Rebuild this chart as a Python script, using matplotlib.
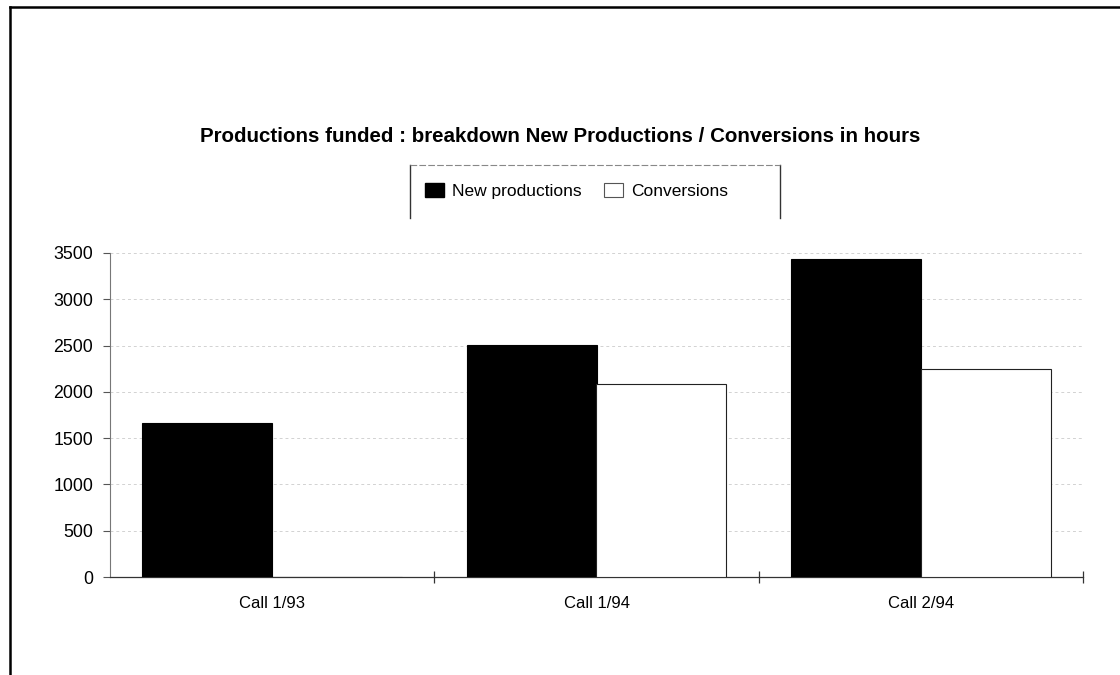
import matplotlib
matplotlib.use("Agg")
from matplotlib import pyplot as plt
from matplotlib.patches import Patch
from matplotlib.lines import Line2D
import numpy as np

plt.rcParams['font.family'] = ['Liberation Sans', 'DejaVu Sans']

categories = ["Call 1/93", "Call 1/94", "Call 2/94"]
new_productions = [1660, 2510, 3440]
conversions = [0, 2080, 2250]
y_ticks = [0, 500, 1000, 1500, 2000, 2500, 3000, 3500]

W, H = 1120, 675
fig = plt.figure(figsize=(W / 100, H / 100), dpi=100)
ax = fig.add_axes([110 / W, 1 - 577 / H, (1083 - 110) / W, (577 - 253) / H])

x = np.arange(len(categories))
bw = 0.4
ax.bar(x - bw / 2, new_productions, bw, color="black", edgecolor="black", linewidth=0.8, zorder=3)
ax.bar(x + bw / 2, conversions, bw, color="white", edgecolor="#222222", linewidth=0.8, zorder=3)

ax.set_xlim(-0.5, len(categories) - 0.5)
ax.set_ylim(0, 3500)
ax.set_yticks(y_ticks)
ax.set_yticklabels([str(v) for v in y_ticks], fontsize=12.8)
ax.set_xticks(x)
ax.set_xticklabels(categories, fontsize=12)
ax.set_xticks(list(x[1:] - 0.5) + [len(categories) - 0.5], minor=True)
ax.tick_params(axis="x", which="major", length=0, pad=14)
ax.tick_params(axis="x", which="minor", direction="inout", length=8, width=0.9, color="#333333")
ax.tick_params(axis="y", length=5, width=0.8, color="#555555", pad=7)
ax.yaxis.grid(True, color="#d2d2d2", linestyle=(0, (3, 3)), linewidth=0.7, zorder=0)
ax.set_axisbelow(True)

for s in ["top", "right"]:
    ax.spines[s].set_visible(False)
ax.spines["left"].set_color("#777777")
ax.spines["left"].set_linewidth(0.8)
ax.spines["bottom"].set_color("#333333")
ax.spines["bottom"].set_linewidth(0.9)

fig.text(560 / W, 1 - 137 / H, "Productions funded : breakdown New Productions / Conversions in hours",
         ha="center", va="center", fontsize=14.8, fontweight="bold")

# legend, drawn without its own frame; box drawn as lines
handles = [Patch(facecolor="black", edgecolor="black"),
           Patch(facecolor="white", edgecolor="#555555", linewidth=0.8)]
fig.legend(handles, ["New productions", "Conversions"], ncol=2, frameon=False,
           loc="center left", bbox_to_anchor=(418 / W, 1 - 191 / H), borderaxespad=0,
           fontsize=12.5, handlelength=1.1, handleheight=0.9, handletextpad=0.45,
           columnspacing=1.3)
fig.add_artist(Line2D([410 / W, 410 / W], [1 - 165 / H, 1 - 218 / H], color="#333333", lw=1))
fig.add_artist(Line2D([780 / W, 780 / W], [1 - 165 / H, 1 - 218 / H], color="#333333", lw=1))
fig.add_artist(Line2D([410 / W, 780 / W], [1 - 165 / H, 1 - 165 / H], color="#888888", lw=0.8,
                      linestyle=(0, (6, 2))))

# page frame
fig.add_artist(Line2D([10 / W, 10 / W], [0, 1 - 7 / H], color="black", lw=1.8))
fig.add_artist(Line2D([10 / W, 1], [1 - 7 / H, 1 - 7 / H], color="black", lw=1.8))

fig.savefig("out.png", dpi=100)
